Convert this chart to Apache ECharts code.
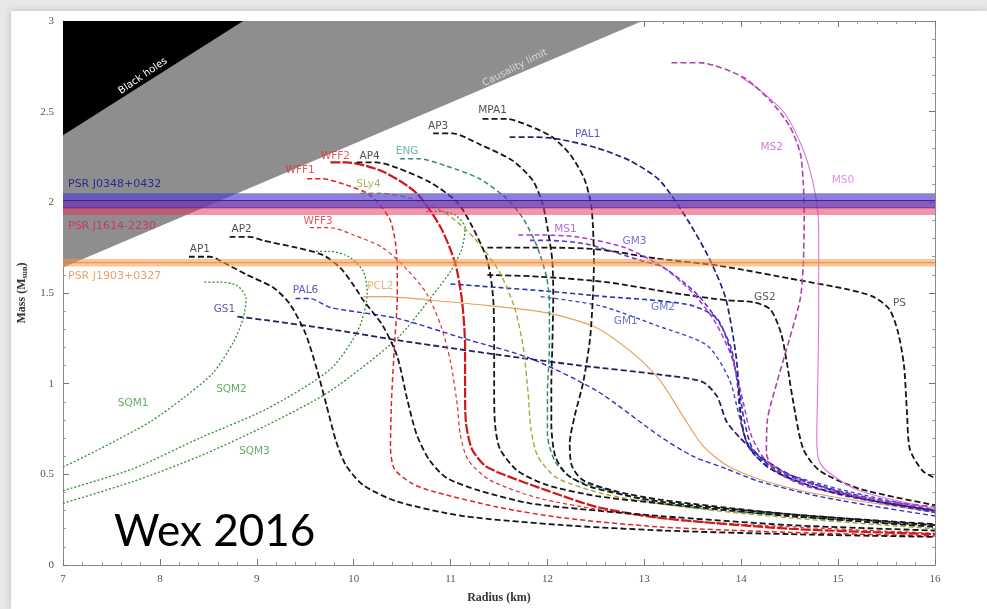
<!DOCTYPE html>
<html><head><meta charset="utf-8">
<script src="https://cdn.jsdelivr.net/npm/echarts@6/dist/echarts.min.js"></script>
<style>html,body{margin:0;padding:0;background:#e8e8e8;}#c{width:987px;height:609px;}</style>
</head><body><div id="c"></div>
<script>
// ---------- DATA ----------
const xTickLabels = ['7','8','9','10','11','12','13','14','15','16'];
const yTickLabels = ['0','0.5','1','1.5','2','2.5','3'];

// excluded regions (polygon vertices, [radius km, mass Msun])
const blackHoleR = [7, 7, 8.86];
const blackHoleM = [2.37, 3, 3];
const causalR = [7, 7, 12.98];
const causalM = [1.64, 3, 3];

// pulsar mass bands
const bandNames = ['PSR J0348+0432', 'PSR J1614-2230', 'PSR J1903+0327'];
const bandLow  = [1.97, 1.93, 1.646];
const bandHigh = [2.05, 2.01, 1.688];

// EOS mass-radius curves [R (km), M (Msun)]
const AP1 = [[8.3,1.70],[8.52,1.70],[8.65,1.67],[8.9,1.60],[9.17,1.53],[9.34,1.44],[9.5,1.28],[9.62,1.08],[9.72,0.88],[9.82,0.68],[9.92,0.55],[10.1,0.44],[10.45,0.35],[11.13,0.27],[12.16,0.22],[13.2,0.19],[14.5,0.17],[16,0.155]];
const AP2 = [[8.72,1.81],[8.93,1.81],[9.06,1.79],[9.41,1.75],[9.68,1.71],[9.86,1.64],[9.99,1.55],[10.1,1.46],[10.3,1.32],[10.45,1.15],[10.55,0.92],[10.65,0.72],[10.78,0.58],[10.96,0.48],[11.3,0.41],[11.82,0.34],[12.51,0.30],[13.16,0.27],[14.5,0.22],[16,0.19]];
const WFF1 = [[9.52,2.13],[9.68,2.13],[9.9,2.10],[10.17,2.04],[10.37,1.91],[10.43,1.78],[10.45,1.64],[10.45,1.48],[10.42,1.2],[10.39,0.9],[10.38,0.65],[10.42,0.53],[10.6,0.45],[10.79,0.41],[11.48,0.32],[12.16,0.26],[13.16,0.21],[14.5,0.18],[16,0.16]];
const WFF2 = [[9.76,2.22],[9.93,2.22],[10.3,2.17],[10.65,2.05],[10.9,1.86],[11.05,1.66],[11.12,1.45],[11.15,1.2],[11.15,0.95],[11.16,0.78],[11.22,0.64],[11.35,0.55],[11.54,0.5],[12.0,0.41],[12.51,0.32],[13.16,0.26],[14.5,0.2],[16,0.17]];
const WFF3 = [[9.55,1.86],[9.76,1.86],[10.0,1.82],[10.3,1.75],[10.55,1.63],[10.75,1.5],[10.9,1.32],[11.0,1.12],[11.07,0.88],[11.1,0.72],[11.18,0.58],[11.4,0.47],[11.9,0.37],[12.6,0.3],[13.5,0.24],[16,0.175]];
const AP4 = [[10.03,2.22],[10.24,2.22],[10.45,2.19],[10.79,2.11],[11.07,2.0],[11.23,1.86],[11.38,1.68],[11.44,1.47],[11.45,1.2],[11.45,0.95],[11.46,0.77],[11.51,0.64],[11.69,0.52],[12.0,0.44],[12.51,0.38],[13.16,0.34],[14.5,0.27],[16,0.21]];
const ENG = [[10.48,2.24],[10.68,2.24],[10.96,2.20],[11.3,2.13],[11.58,2.02],[11.75,1.91],[11.89,1.76],[11.99,1.59],[12.02,1.45],[12.02,1.2],[12.0,0.95],[12.0,0.72],[12.08,0.57],[12.25,0.48],[12.51,0.43],[13.16,0.34],[14.5,0.27],[16,0.215]];
const SLy4 = [[10.07,2.05],[10.27,2.05],[10.6,2.02],[10.95,1.94],[11.25,1.8],[11.5,1.62],[11.66,1.42],[11.75,1.2],[11.8,0.95],[11.83,0.75],[11.9,0.6],[12.1,0.48],[12.6,0.39],[13.4,0.32],[14.5,0.26],[16,0.2]];
const AP3 = [[10.82,2.38],[11.02,2.38],[11.3,2.32],[11.64,2.23],[11.85,2.12],[11.95,1.99],[12.0,1.86],[12.05,1.68],[12.06,1.49],[12.05,1.2],[12.04,1.0],[12.04,0.78],[12.08,0.6],[12.2,0.5],[12.45,0.43],[13.16,0.35],[14.5,0.28],[16,0.22]];
const MPA1 = [[11.33,2.46],[11.58,2.46],[11.82,2.42],[12.05,2.36],[12.24,2.26],[12.38,2.13],[12.45,1.99],[12.47,1.86],[12.48,1.68],[12.47,1.49],[12.44,1.25],[12.37,1.01],[12.28,0.82],[12.23,0.67],[12.25,0.55],[12.36,0.47],[12.68,0.41],[13.16,0.36],[14.5,0.28],[16,0.225]];
const PAL1 = [[11.61,2.36],[11.85,2.36],[12.10,2.35],[12.51,2.30],[12.85,2.23],[13.16,2.12],[13.45,1.9],[13.68,1.68],[13.84,1.47],[13.95,1.14],[14.0,0.81],[14.07,0.66],[14.3,0.53],[14.81,0.42],[15.4,0.35],[16,0.3]];
const PAL6 = [[9.4,1.47],[9.55,1.47],[9.76,1.42],[10.45,1.36],[11.13,1.25],[11.82,1.14],[12.51,0.96],[13.16,0.71],[13.5,0.6],[13.85,0.53],[14.19,0.46],[14.88,0.37],[16,0.27]];
const GS1 = [[8.8,1.37],[9.1,1.35],[9.76,1.30],[10.45,1.24],[11.48,1.16],[12.34,1.10],[13.16,1.05],[13.6,1.01],[13.75,0.93],[13.85,0.79],[13.99,0.70],[14.19,0.60],[14.53,0.49],[15.22,0.37],[16,0.30]];
const PCL2 = [[10.1,1.48],[10.34,1.48],[10.8,1.46],[11.4,1.43],[12.0,1.39],[12.5,1.31],[12.9,1.16],[13.16,1.02],[13.4,0.82],[13.6,0.66],[13.85,0.55],[14.2,0.47],[14.8,0.39],[16,0.29]];
const PS = [[11.38,1.75],[11.6,1.75],[12.0,1.75],[12.54,1.74],[13.13,1.69],[13.78,1.65],[14.6,1.57],[15.1,1.52],[15.36,1.48],[15.53,1.41],[15.62,1.28],[15.68,1.1],[15.71,0.85],[15.74,0.64],[15.87,0.52],[16,0.48]];
const GS2 = [[11.38,1.60],[11.92,1.59],[12.61,1.56],[13.30,1.50],[13.85,1.46],[14.12,1.45],[14.3,1.41],[14.41,1.28],[14.47,1.12],[14.53,0.92],[14.64,0.64],[14.81,0.52],[15.22,0.42],[16,0.33]];
const GM3 = [[11.82,1.79],[12.0,1.79],[12.4,1.77],[12.96,1.68],[13.2,1.64],[13.55,1.49],[13.79,1.32],[13.9,1.19],[13.96,1.0],[14.0,0.78],[14.1,0.63],[14.4,0.5],[15.0,0.39],[16,0.29]];
const MS1 = [[11.7,1.82],[11.9,1.82],[12.3,1.81],[12.8,1.75],[13.2,1.64],[13.5,1.50],[13.72,1.35],[13.9,1.15],[14.02,0.9],[14.1,0.72],[14.25,0.58],[14.6,0.47],[15.2,0.38],[16,0.31]];
const GM2 = [[11.0,1.55],[11.5,1.53],[12.0,1.51],[12.6,1.48],[13.1,1.46],[13.5,1.43],[13.75,1.36],[13.88,1.2],[13.97,1.0],[14.03,0.8],[14.12,0.64],[14.4,0.51],[15,0.41],[16,0.29]];
const GM1 = [[11.93,1.48],[12.54,1.43],[13.13,1.32],[13.65,1.21],[13.88,1.02],[13.98,0.82],[14.08,0.66],[14.35,0.53],[15,0.42],[16,0.3]];
const MS2 = [[13.28,2.77],[13.57,2.77],[14.02,2.69],[14.3,2.56],[14.5,2.42],[14.61,2.27],[14.64,2.11],[14.65,1.92],[14.64,1.65],[14.61,1.47],[14.5,1.25],[14.37,1.01],[14.27,0.8],[14.26,0.62],[14.35,0.52],[14.7,0.43],[15.4,0.36],[16,0.32]];
const MS0 = [[14.0,2.69],[14.19,2.62],[14.45,2.49],[14.64,2.29],[14.74,2.11],[14.79,1.95],[14.8,1.80],[14.8,1.4],[14.79,1.0],[14.78,0.7],[14.8,0.58],[14.88,0.52],[15.22,0.41],[16,0.31]];
const SQM1 = [[7.0,0.54],[7.38,0.64],[7.9,0.79],[8.24,0.92],[8.55,1.06],[8.76,1.23],[8.86,1.36],[8.89,1.47],[8.8,1.54],[8.62,1.56],[8.45,1.56]];
const SQM2 = [[7.0,0.41],[7.72,0.53],[8.41,0.70],[9.1,0.86],[9.76,1.08],[10.05,1.3],[10.14,1.5],[10.1,1.62],[9.95,1.7],[9.75,1.73],[9.6,1.73]];
const SQM3 = [[7.0,0.34],[7.72,0.46],[8.41,0.6],[9.1,0.77],[9.76,0.96],[10.45,1.25],[10.79,1.47],[11.0,1.62],[11.12,1.75],[11.15,1.86],[11.05,1.93],[10.9,1.95],[10.75,1.95]];

// ---------- STYLES ----------
const BLK = '#161616';
const curveStyles = [
  // name, data, color, width, dash, labelColor, label anchor index, label offset
  ['SQM1', SQM1, '#2f8f2f', 1.3, [2,2], '#3a9a3a', 3, [-50,5]],
  ['SQM2', SQM2, '#2f8f2f', 1.3, [2,2], '#3a9a3a', 3, [-35,-20]],
  ['SQM3', SQM3, '#2f8f2f', 1.3, [2,2], '#3a9a3a', 3, [-12,26]],
  ['PCL2', PCL2, '#e6a25a', 1.2, 'solid', '#e0a050', 0, [17,-10]],
  ['PAL6', PAL6, '#3030c8', 1.4, [5,3], '#3030b0', 0, [10,-8]],
  ['GS1',  GS1,  '#202060', 1.8, [6,3], '#3030a0', 0, [-13,-7]],
  ['GM1',  GM1,  '#3a48c8', 1.4, [4,3], '#4a50c0', 1, [26,16]],
  ['GM2',  GM2,  '#2a36b0', 1.6, [5,3], '#4a50c0', 4, [9,7]],
  ['GS2',  GS2,  BLK, 1.8, [6,3], '#333', 5, [12,-5]],
  ['PS',   PS,   BLK, 1.8, [6,3], '#333', 9, [10,-6]],
  ['GM3',  GM3,  '#5a38d0', 1.6, [5,3], '#5a40c8', 3, [-6,-19]],
  ['MS1',  MS1,  '#b030e0', 1.5, [5,3], '#b040d8', 0, [47,-6]],
  ['MS0',  MS0,  '#e070e0', 1.1, 'solid', '#e070e0', 4, [30,-2]],
  ['MS2',  MS2,  '#b040b0', 1.6, [6,3], '#d050d0', 4, [-18,21]],
  ['PAL1', PAL1, '#22227a', 1.7, [6,3], '#3030b0', 0, [78,-3]],
  ['WFF1', WFF1, '#e02424', 1.5, [5,3], '#e03030', 0, [-7,-8]],
  ['WFF3', WFF3, '#e03030', 1.2, [4,3], '#e03030', 0, [8,-6]],
  ['WFF2', WFF2, '#d01818', 2.2, [10,2], '#e03030', 0, [5,-6]],
  ['SLy4', SLy4, '#a8a838', 1.4, [5,3], '#a0a040', 0, [8,-9]],
  ['ENG',  ENG,  '#2a8a80', 1.5, [5,3], '#40a0a0', 0, [7,-8]],
  ['AP1',  AP1,  BLK, 1.8, [6,3], '#222', 0, [11,-7]],
  ['AP2',  AP2,  BLK, 1.8, [6,3], '#222', 0, [12,-8]],
  ['AP4',  AP4,  BLK, 1.8, [6,3], '#222', 0, [13,-6]],
  ['AP3',  AP3,  BLK, 1.8, [6,3], '#222', 0, [5,-7]],
  ['MPA1', MPA1, BLK, 1.8, [6,3], '#222', 0, [10,-9]]
];
const bandFill = ['rgba(80,60,205,0.66)', 'rgba(228,45,85,0.5)', 'rgba(245,150,70,0.55)'];
const bandLine = ['rgba(60,20,120,0.85)', 'rgba(150,10,50,0.85)', 'rgba(230,120,40,0.8)'];
const bandText = ['#2a2a90', '#d03858', '#e8a468'];
const bandTextDy = [-9, 11, 10];
const bandOrder = [1, 0, 2];

const FONT = "'DejaVu Sans', sans-serif";
const SERIF = "'Liberation Serif', 'DejaVu Serif', serif";

// ---------- BUILD ----------
const chart = echarts.init(document.getElementById('c'), null, {renderer: 'canvas'});

function polygonSeries(R, M, fill) {
  return {
    type: 'custom', silent: true, z: 1,
    data: [R.map((r, i) => [r, M[i]]).flat()],
    renderItem: (params, api) => {
      const pts = [];
      for (let i = 0; i < R.length; i++) pts.push(api.coord([api.value(2*i), api.value(2*i+1)]));
      return {type: 'polygon', shape: {points: pts}, style: {fill: fill}};
    }
  };
}

const series = [];
series.push(polygonSeries(causalR, causalM, '#8e8e8e'));
series.push(polygonSeries(blackHoleR, blackHoleM, '#000'));

curveStyles.forEach(s => {
  const [name, data, color, width, dash] = s;
  series.push({
    type: 'line', name: name, data: data, smooth: 0.25, symbol: 'none', showSymbol: false,
    lineStyle: {color: color, width: width, type: dash}, silent: true, z: 3, clip: true
  });
});

bandOrder.forEach(i => {
  series.push({
    type: 'custom', silent: true, z: 4,
    data: [[bandLow[i], bandHigh[i]]],
    renderItem: (params, api) => {
      const lo = api.value(0), hi = api.value(1);
      const a = api.coord([7, hi]), b = api.coord([16, lo]);
      const mid = api.coord([7, (lo + hi) / 2]);
      const ty = bandTextDy[i] < 0 ? a[1] + bandTextDy[i] : b[1] + bandTextDy[i];
      return {type: 'group', children: [
        {type: 'rect', shape: {x: a[0], y: a[1], width: b[0] - a[0], height: b[1] - a[1]}, style: {fill: bandFill[i]}},
        {type: 'line', shape: {x1: a[0], y1: mid[1], x2: b[0], y2: mid[1]}, style: {stroke: bandLine[i], lineWidth: 1}},
        {type: 'text', x: a[0] + 5, y: ty, style: {text: bandNames[i], fill: bandText[i], font: "11px 'DejaVu Sans', sans-serif", align: 'left', verticalAlign: 'middle'}}
      ]};
    }
  });
});

curveStyles.forEach(s => {
  const [name, data, , , , lcolor, k, off] = s;
  series.push({
    type: 'scatter', silent: true, z: 6, symbolSize: 1, itemStyle: {color: 'rgba(0,0,0,0)'},
    data: [{value: data[k]}],
    label: {show: true, position: 'inside', offset: off, formatter: name, color: lcolor, fontSize: 10.5, fontFamily: FONT}
  });
});

const axisCommon = {
  type: 'value', splitLine: {show: false},
  axisLine: {show: true, onZero: false, lineStyle: {color: '#8a8a8a', width: 1}},
  axisTick: {show: true, inside: true, length: 6, lineStyle: {color: '#777'}},
  minorTick: {show: true, splitNumber: 5, length: 3, lineStyle: {color: '#999'}}
};

const option = {
  animation: false,
  backgroundColor: '#e8e8e8',
  grid: {left: 63, right: 52, top: 21, bottom: 42},
  xAxis: [
    Object.assign({}, axisCommon, {
      min: 7, max: 16, interval: 1, position: 'bottom',
      axisLabel: {margin: 9, fontSize: 11, color: '#555', fontFamily: SERIF, formatter: v => xTickLabels[Math.round(v - 7)]},
      name: 'Radius (km)', nameLocation: 'middle', nameGap: 27,
      nameTextStyle: {fontFamily: SERIF, fontWeight: 'bold', fontSize: 12, color: '#333'}
    }),
    Object.assign({}, axisCommon, {min: 7, max: 16, interval: 1, position: 'top', axisLabel: {show: false}})
  ],
  yAxis: [
    Object.assign({}, axisCommon, {
      min: 0, max: 3, interval: 0.5, position: 'left',
      axisLabel: {margin: 9, fontSize: 11, color: '#555', fontFamily: SERIF, formatter: v => yTickLabels[Math.round(v * 2)]},
      name: 'Mass (M{s|sun})', nameLocation: 'middle', nameGap: 24,
      nameTextStyle: {fontFamily: SERIF, fontWeight: 'bold', fontSize: 12, color: '#333',
        rich: {s: {fontFamily: SERIF, fontWeight: 'bold', fontSize: 8, color: '#333', padding: [6, 0, 0, 0]}}}
    }),
    Object.assign({}, axisCommon, {min: 0, max: 3, interval: 0.5, position: 'right', axisLabel: {show: false}})
  ],
  graphic: [
    {type: 'rect', z: -10, shape: {x: 11, y: 11, width: 976, height: 598}, style: {fill: '#ffffff', shadowBlur: 8, shadowColor: 'rgba(0,0,0,0.18)'}},
    {type: 'text', z: 50, x: 143, y: 76, rotation: 0.6, style: {text: 'Black holes', fill: '#fff', font: "10px 'DejaVu Sans', sans-serif", align: 'center', verticalAlign: 'middle'}},
    {type: 'text', z: 50, x: 515, y: 68, rotation: 0.47, style: {text: 'Causality limit', fill: '#d8d8d8', font: "10px 'DejaVu Sans', sans-serif", align: 'center', verticalAlign: 'middle'}},
    {type: 'text', z: 100, x: 114, y: 532, style: {text: 'Wex 2016', fill: '#000', font: "44px Lato, 'Open Sans', sans-serif", align: 'left', verticalAlign: 'middle'}}
  ],
  series: series
};
chart.setOption(option);
</script>
</body></html>
